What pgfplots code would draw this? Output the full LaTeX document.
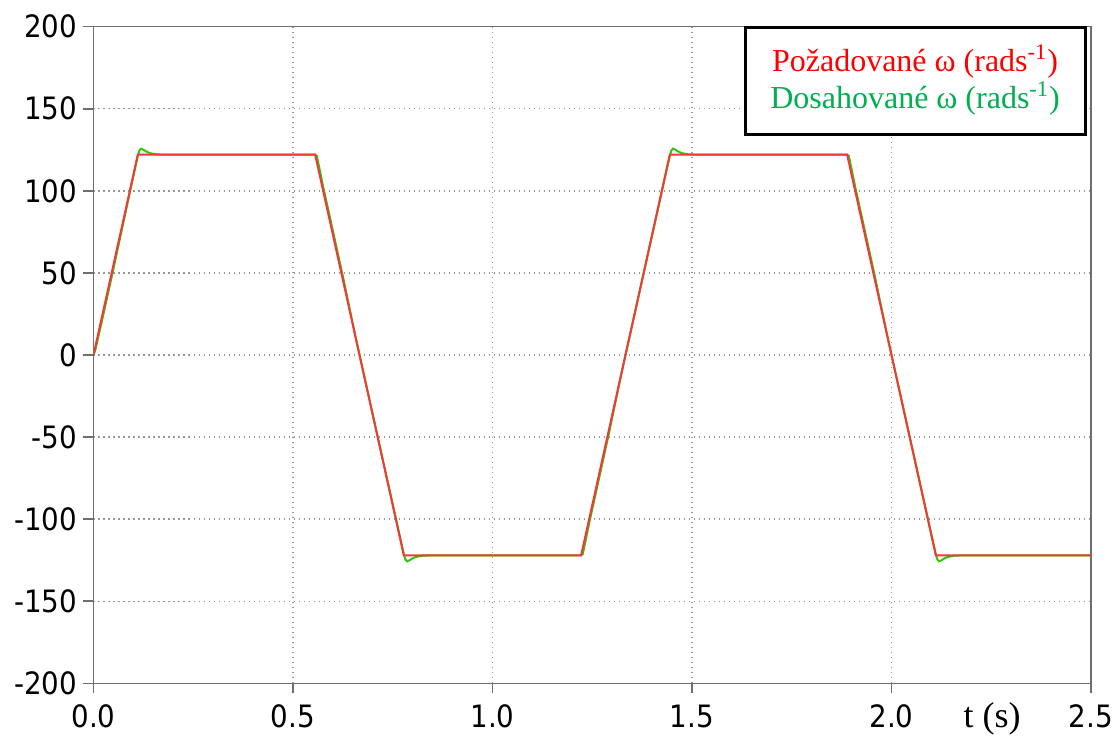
\documentclass[border=0pt]{standalone}
\usepackage{pgfplots}
\pgfplotsset{compat=1.18}
\usepackage{fontspec}
\newfontfamily\tickfont{DejaVu Sans Condensed}
\newfontfamily\serfont{Liberation Serif}
\definecolor{axgray}{RGB}{110,110,110}
\definecolor{gridgray}{RGB}{150,150,150}
\definecolor{linered}{RGB}{245,55,55}
\definecolor{linegreen}{RGB}{45,200,10}
\definecolor{txtred}{RGB}{255,0,0}
\definecolor{txtgreen}{RGB}{0,176,80}
\begin{document}
\begin{tikzpicture}
\useasboundingbox (-46.75pt,-26.35pt) rectangle (512.75pt,341.65pt);
\begin{axis}[
  at={(0,0)}, anchor=south west,
  scale only axis, width=498.75pt, height=328.3pt,
  xmin=0, xmax=2.5, ymin=-200, ymax=200,
  xtick={0,0.5,1,1.5,2,2.5},
  xticklabels={0.0,0.5,1.0,1.5,2.0,2.5},
  ytick={-200,-150,-100,-50,0,50,100,150,200},
  yticklabels={-200,-150,-100,-50,0,50,100,150,200},
  tick align=outside, xtick pos=bottom, ytick pos=left,
  major tick length=5pt,
  every tick/.style={axgray, line width=0.75pt},
  axis line style={axgray, line width=0.75pt},
  grid=major,
  major grid style={gridgray, line width=0.7pt, dash pattern=on 0.7pt off 1.8pt},
  tick label style={font=\tickfont\fontsize{15.4}{18}\selectfont, text=black},
  yticklabel style={inner xsep=3pt},
  xticklabel style={inner ysep=5.6pt},
  clip=true,
]
\addplot[linegreen, line width=1pt] coordinates {
(0,0) (0.005,3.5) (0.02,19.5) (0.05,52.5) (0.08,86.5) (0.1111,121.5)
(0.1151,124.6) (0.1191,125.7) (0.1241,125.2) (0.1311,124.1) (0.1411,123.0)
(0.1561,122.3) (0.1761,122.05) (0.2011,122) (0.5556,122) (0.5596,121.3)
(0.5656,114.5) (0.5756,102.5) (0.5956,80.5) (0.6256,47.3) (0.6556,12.3)
(0.7,-36.5) (0.7778,-121.5) (0.7818,-124.6) (0.7858,-125.7) (0.7908,-125.2)
(0.7978,-124.1) (0.8078,-123.0) (0.8228,-122.3) (0.8428,-122.05) (0.8678,-122)
(1.2222,-122) (1.2262,-121.3) (1.2322,-114.5) (1.2422,-102.5) (1.2622,-80.5)
(1.2922,-47.3) (1.3222,-12.3) (1.4444,121.5) (1.4484,124.6) (1.4524,125.7)
(1.4574,125.2) (1.4644,124.1) (1.4744,123.0) (1.4894,122.3) (1.5094,122.05)
(1.5344,122) (1.8889,122) (1.8929,121.3) (1.8989,114.5) (1.9089,102.5)
(1.9289,80.5) (1.9589,47.3) (1.9889,12.3) (2.1111,-121.5) (2.1151,-124.6)
(2.1191,-125.7) (2.1241,-125.2) (2.1311,-124.1) (2.1411,-123.0) (2.1561,-122.3)
(2.1761,-122.05) (2.2011,-122) (2.5,-122)
};
\addplot[linered, line width=1pt] coordinates {
(0,0) (0.1111,122) (0.5556,122) (0.7778,-122) (1.2222,-122)
(1.4444,122) (1.8889,122) (2.1111,-122) (2.5,-122)
};
\node[draw=black, line width=1.5pt, fill=white, minimum width=170pt, minimum height=53.5pt,
      anchor=north east, inner sep=0pt] at ([xshift=-2pt,yshift=0.4pt]rel axis cs:1,1) {};
\node[anchor=base, text=txtred, font=\serfont\fontsize{16}{19}\selectfont, inner sep=0pt]
  at (axis cs:2.059,172.6) {Požadované ω (rads\textsuperscript{-1})};
\node[anchor=base, text=txtgreen, font=\serfont\fontsize{16}{19}\selectfont, inner sep=0pt]
  at (axis cs:2.059,149.9) {Dosahované ω (rads\textsuperscript{-1})};
\end{axis}
\node[anchor=base, font=\serfont\fontsize{18}{21}\selectfont, inner sep=0pt]
  at (449.3pt,-22.1pt) {t (s)};
\end{tikzpicture}
\end{document}
